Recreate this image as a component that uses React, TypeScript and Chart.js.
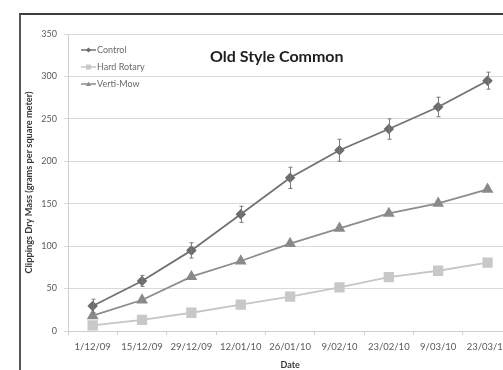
import React, { useEffect, useRef } from "react";
import { Chart, registerables } from "chart.js";

Chart.register(...registerables);

// Sampling dates along the x axis
const dates = [
  "1/12/09",
  "15/12/09",
  "29/12/09",
  "12/01/10",
  "26/01/10",
  "9/02/10",
  "23/02/10",
  "9/03/10",
  "23/03/10",
];

// Cumulative clippings dry mass (g per m²)
const control = [29.5, 59, 95, 137.5, 180.5, 213, 238, 264, 295];
const controlErr = [8, 6.5, 9, 9.5, 12.5, 13, 12, 11.5, 10];
const hardRotary = [6.7, 13, 21.5, 31, 40.5, 51.5, 63.5, 71, 80.5];
const vertiMow = [18, 36.5, 64, 82.5, 103, 121, 138.5, 150.5, 167];

const yMin = 0;
const yMax = 350;
const yStep = 50;

const chartTitle = "Old Style Common";
const xTitle = "Date";
const yTitle = "Clippings Dry Mass (grams per square meter)";

const FONT = "Lato, 'Open Sans', sans-serif";

// Vertical error bars with caps on the Control series
const errorBars = {
  id: "errorBars",
  afterDatasetsDraw(chart: any) {
    const meta = chart.getDatasetMeta(0);
    const ys = chart.scales.y;
    const ctx = chart.ctx;
    ctx.save();
    ctx.strokeStyle = "#7a7a7a";
    ctx.lineWidth = 1;
    meta.data.forEach((pt: any, i: number) => {
      const x = Math.round(pt.x) + 0.5;
      const top = ys.getPixelForValue(control[i] + controlErr[i]);
      const bot = ys.getPixelForValue(control[i] - controlErr[i]);
      ctx.beginPath();
      ctx.moveTo(x, top);
      ctx.lineTo(x, bot);
      ctx.moveTo(x - 2, top);
      ctx.lineTo(x + 2, top);
      ctx.moveTo(x - 2, bot);
      ctx.lineTo(x + 2, bot);
      ctx.stroke();
    });
    ctx.restore();
  },
};

function marker(ctx: CanvasRenderingContext2D, style: string, x: number, y: number, r: number) {
  ctx.beginPath();
  if (style === "rectRot") {
    ctx.moveTo(x, y - r);
    ctx.lineTo(x + r, y);
    ctx.lineTo(x, y + r);
    ctx.lineTo(x - r, y);
  } else if (style === "rect") {
    ctx.rect(x - r, y - r, 2 * r, 2 * r);
  } else {
    ctx.moveTo(x, y - r);
    ctx.lineTo(x + r, y + r * 0.8);
    ctx.lineTo(x - r, y + r * 0.8);
  }
  ctx.closePath();
  ctx.fill();
}

// Chart title and line+marker legend placed inside the plot area
const innerDecor = {
  id: "innerDecor",
  afterDraw(chart: any) {
    const { ctx, chartArea } = chart;
    const { left, top } = chartArea;
    ctx.save();
    ctx.font = `bold 16px ${FONT}`;
    ctx.fillStyle = "#1e1e1e";
    ctx.textAlign = "left";
    ctx.textBaseline = "middle";
    ctx.fillText(chartTitle, left + 142, top + 23);

    ctx.font = `9px ${FONT}`;
    chart.data.datasets.forEach((ds: any, i: number) => {
      const y = top + 16 + i * 17;
      const x0 = left + 13;
      ctx.strokeStyle = ds.borderColor;
      ctx.lineWidth = 1.5;
      ctx.beginPath();
      ctx.moveTo(x0, y);
      ctx.lineTo(x0 + 15, y);
      ctx.stroke();
      ctx.fillStyle = ds.pointBackgroundColor;
      marker(ctx, ds.pointStyle, x0 + 7.5, y, 2.5);
      ctx.fillStyle = "#6a6a6a";
      ctx.fillText(ds.label, x0 + 16, y + 0.5);
    });
    ctx.restore();
  },
};

function LineChart() {
  const ref = useRef<HTMLCanvasElement>(null);

  useEffect(() => {
    if (!ref.current) return;
    const chart = new Chart(ref.current, {
      type: "line",
      data: {
        labels: dates,
        datasets: [
          {
            label: "Control",
            data: control,
            borderColor: "#727272",
            backgroundColor: "#6c6c6c",
            pointBackgroundColor: "#6c6c6c",
            pointBorderColor: "#6c6c6c",
            pointStyle: "rectRot",
            pointRadius: 4,
            borderWidth: 1.8,
          },
          {
            label: "Hard Rotary",
            data: hardRotary,
            borderColor: "#c6c6c6",
            backgroundColor: "#c8c8c8",
            pointBackgroundColor: "#c8c8c8",
            pointBorderColor: "#c8c8c8",
            pointStyle: "rect",
            pointRadius: 6,
            borderWidth: 1.8,
          },
          {
            label: "Verti-Mow",
            data: vertiMow,
            borderColor: "#8c8c8c",
            backgroundColor: "#8a8a8a",
            pointBackgroundColor: "#8a8a8a",
            pointBorderColor: "#8a8a8a",
            pointStyle: "triangle",
            pointRadius: 5,
            borderWidth: 1.8,
          },
        ],
      },
      options: {
        responsive: false,
        animation: false,
        devicePixelRatio: 1,
        layout: { padding: { left: 0, right: 7, top: 34, bottom: 0 } },
        plugins: {
          legend: { display: false },
          title: { display: false },
          tooltip: { enabled: false },
        },
        scales: {
          x: {
            type: "category",
            offset: true,
            grid: {
              offset: true,
              drawOnChartArea: false,
              drawTicks: true,
              tickLength: 4,
              color: "#cfcfcf",
            },
            border: { color: "#cfcfcf", width: 1 },
            ticks: {
              color: "#5a5a5a",
              padding: 6,
              maxRotation: 0,
              autoSkip: false,
              font: { family: FONT, size: 9.5 },
            },
            title: {
              display: true,
              text: xTitle,
              color: "#3a3a3a",
              padding: { top: 0, bottom: 0 },
              font: { family: FONT, size: 9, weight: "bold" },
            },
            afterFit(scale: any) {
              scale.height = 39;
            },
          },
          y: {
            min: yMin,
            max: yMax,
            ticks: {
              stepSize: yStep,
              color: "#5a5a5a",
              padding: 7,
              font: { family: FONT, size: 9 },
            },
            grid: {
              color: "#d9d9d9",
              tickLength: 4,
              drawTicks: true,
            },
            border: { color: "#cfcfcf", width: 1 },
            title: {
              display: true,
              text: yTitle,
              color: "#3a3a3a",
              padding: { top: 24, bottom: 24 },
              font: { family: FONT, size: 9.2, weight: "bold" },
            },
            afterFit(scale: any) {
              scale.width = 68;
            },
          },
        },
      },
      plugins: [errorBars, innerDecor],
    } as any);
    return () => chart.destroy();
  }, []);

  return <canvas ref={ref} width={520} height={370} style={{ position: "absolute", left: 0, top: 0 }} />;
}

export default function App() {
  return (
    <div
      style={{
        position: "fixed",
        left: 0,
        top: 0,
        width: 503,
        height: 370,
        overflow: "hidden",
        background: "#ffffff",
      }}
    >
      <div
        style={{
          position: "absolute",
          left: 19,
          top: 13,
          width: 520,
          height: 400,
          borderTop: "2px solid #3c3c3c",
          borderLeft: "2px solid #555555",
        }}
      />
      <LineChart />
    </div>
  );
}
